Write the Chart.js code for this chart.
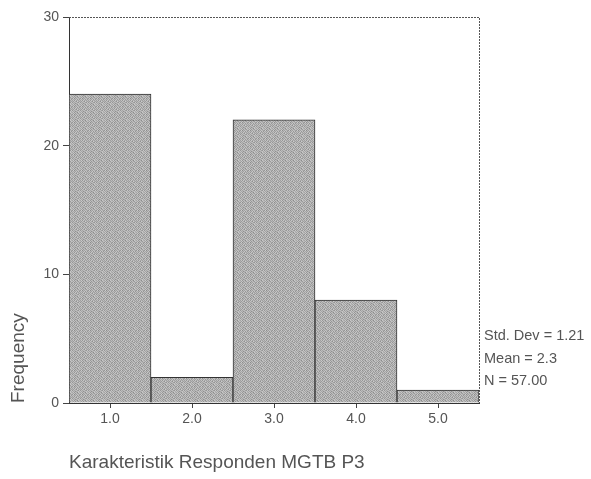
<!DOCTYPE html>
<html>
<head>
<meta charset="utf-8">
<script src="https://cdn.jsdelivr.net/npm/chart.js@4/dist/chart.umd.min.js"></script>
<style>
html,body{margin:0;padding:0;background:#fff;}
#wrap{width:591px;height:479px;position:relative;}
</style>
</head>
<body>
<div id="wrap"><canvas id="c" width="591" height="479"></canvas></div>
<script>
const categories = ['1.0', '2.0', '3.0', '4.0', '5.0'];
const frequencies = [24, 2, 22, 8, 1];
const yTicks = [0, 10, 20, 30];
const statsLines = ['Std. Dev = 1.21', 'Mean = 2.3', 'N = 57.00'];
const xTitle = 'Karakteristik Responden MGTB P3';
const yTitle = 'Frequency';

// stipple texture for the bars (fixed grey-level tile)
const TILE = [
  [165, 200, 150, 190, 175, 140, 200, 180],
  [185, 160, 195, 150, 190, 170, 155, 195],
  [150, 205, 140, 185, 160, 195, 180, 165],
  [190, 170, 180, 160, 200, 150, 195, 150],
  [160, 195, 150, 200, 165, 180, 160, 190],
  [180, 155, 195, 170, 145, 205, 175, 160],
  [150, 190, 165, 185, 190, 160, 150, 200],
  [195, 165, 185, 145, 170, 185, 195, 170]
];
function makePattern() {
  const p = document.createElement('canvas');
  p.width = 8; p.height = 8;
  const g = p.getContext('2d');
  TILE.forEach((row, y) => row.forEach((v, x) => {
    g.fillStyle = `rgb(${v},${v},${v})`;
    g.fillRect(x, y, 1, 1);
  }));
  return g.createPattern(p, 'repeat');
}

const FONT = '"Liberation Sans", Arial, sans-serif';

const frameAndStats = {
  id: 'frameAndStats',
  afterDraw(chart) {
    const {ctx, chartArea: a} = chart;
    ctx.save();
    ctx.strokeStyle = '#555';
    ctx.lineWidth = 1;
    ctx.setLineDash([2, 1]);
    ctx.beginPath();
    ctx.moveTo(a.left, a.top + 0.5);
    ctx.lineTo(a.right + 0.5, a.top + 0.5);
    ctx.lineTo(a.right + 0.5, a.bottom);
    ctx.stroke();
    ctx.setLineDash([]);
    ctx.fillStyle = '#555';
    ctx.font = '14.5px ' + FONT;
    ctx.textBaseline = 'middle';
    ctx.textAlign = 'left';
    statsLines.forEach((t, i) => ctx.fillText(t, a.right + 5, 336 + i * 22.5));
    ctx.restore();
  }
};

new Chart(document.getElementById('c'), {
  type: 'bar',
  data: {
    labels: categories,
    datasets: [{
      data: frequencies,
      backgroundColor: makePattern(),
      borderColor: '#333',
      borderWidth: 1,
      barPercentage: 1,
      categoryPercentage: 1
    }]
  },
  options: {
    responsive: false,
    animation: false,
    layout: { padding: { left: 0, top: 17, right: 112, bottom: 0 } },
    plugins: { legend: { display: false }, tooltip: { enabled: false } },
    scales: {
      x: {
        grid: { display: true, drawOnChartArea: false, drawTicks: true, tickLength: 5, color: '#444', offset: false },
        border: { display: true, color: '#333', width: 1 },
        ticks: {
          color: '#555',
          font: { family: FONT, size: 14 },
          padding: 3
        },
        title: {
          display: true,
          text: xTitle,
          align: 'start',
          color: '#555',
          font: { family: FONT, size: 19 },
          padding: { top: 0, bottom: 5 }
        },
        afterFit(scale) { scale.height = 76; }
      },
      y: {
        min: 0,
        max: 30,
        afterBuildTicks(scale) { scale.ticks = yTicks.map(v => ({ value: v })); },
        grid: { display: true, drawOnChartArea: false, drawTicks: true, tickLength: 6, color: '#444' },
        border: { display: true, color: '#333', width: 1 },
        ticks: {
          color: '#555',
          font: { family: FONT, size: 14 },
          padding: 4
        },
        title: {
          display: true,
          text: yTitle,
          align: 'start',
          color: '#555',
          font: { family: FONT, size: 19 },
          padding: { top: 7, bottom: 0 }
        },
        afterFit(scale) { scale.width = 69; }
      }
    }
  },
  plugins: [frameAndStats]
});
</script>
</body>
</html>
